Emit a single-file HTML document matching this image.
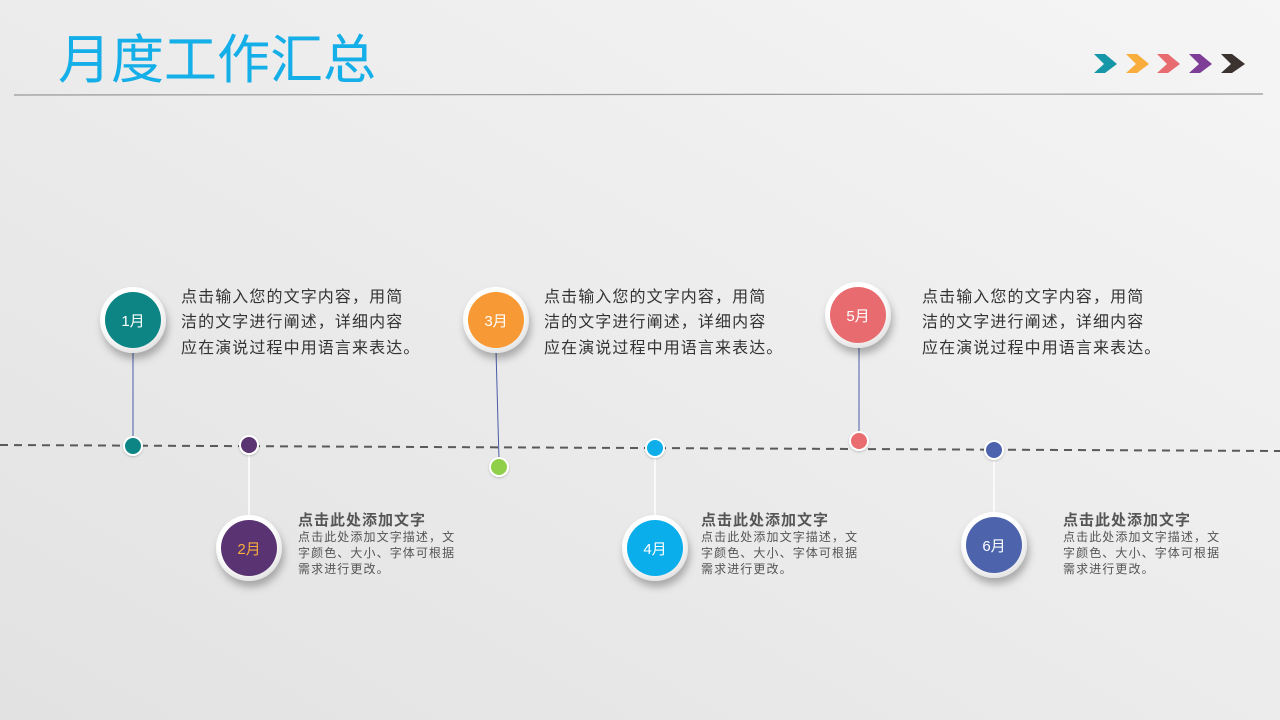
<!DOCTYPE html>
<html><head><meta charset="utf-8"><style>
html,body{margin:0;padding:0;width:1280px;height:720px;overflow:hidden}
svg text{font-family:"Liberation Sans","Noto Sans CJK SC",sans-serif}
</style></head><body>
<svg width="1280" height="720" viewBox="0 0 1280 720" xmlns="http://www.w3.org/2000/svg">
<defs>
<linearGradient id="bg" x1="0" y1="1" x2="1" y2="0">
<stop offset="0" stop-color="#e2e2e2"/><stop offset="1" stop-color="#f5f5f5"/>
</linearGradient>
<radialGradient id="ring" cx="0.45" cy="0.4" r="0.6">
<stop offset="0.7" stop-color="#ffffff"/><stop offset="1" stop-color="#e4e4e4"/>
</radialGradient>
<filter id="sh" x="-50%" y="-50%" width="200%" height="200%">
<feDropShadow dx="2" dy="6" stdDeviation="4" flood-color="#000" flood-opacity="0.28"/>
</filter>
<filter id="sh2" x="-50%" y="-50%" width="200%" height="200%">
<feDropShadow dx="0" dy="1" stdDeviation="1" flood-color="#000" flood-opacity="0.2"/>
</filter>
</defs>
<rect width="1280" height="720" fill="url(#bg)"/>
<text x="58" y="78" font-size="53" fill="#14aee8">月度工作汇总</text>
<line x1="14" y1="95" x2="1263" y2="94" stroke="#999" stroke-width="1.2"/>
<g>
<polygon points="1094,54 1105,54 1117,64 1105,73 1094,73 1104,64" fill="#1597a8"/>
<polygon points="1126,54 1137,54 1149,64 1137,73 1126,73 1136,64" fill="#f8ad3c"/>
<polygon points="1157,54 1168,54 1180,64 1168,73 1157,73 1167,64" fill="#e86c6f"/>
<polygon points="1189,54 1200,54 1212,64 1200,73 1189,73 1199,64" fill="#7e3d97"/>
<polygon points="1221,54 1232,54 1245,64 1232,73 1221,73 1231,64" fill="#3b332f"/>
</g>
<line x1="0" y1="445" x2="1280" y2="451" stroke="#5a5a5a" stroke-width="2" stroke-dasharray="8,6"/>
<line x1="133" y1="350" x2="133" y2="440" stroke="#4a5da8" stroke-width="1"/>
<line x1="496" y1="350" x2="499" y2="460" stroke="#4a5da8" stroke-width="1"/>
<line x1="859" y1="345" x2="859" y2="435" stroke="#4a5da8" stroke-width="1"/>
<line x1="249" y1="450" x2="249" y2="520" stroke="#fff" stroke-width="1.5"/>
<line x1="655" y1="452" x2="655" y2="520" stroke="#fff" stroke-width="1.5"/>
<line x1="994" y1="455" x2="994" y2="515" stroke="#fff" stroke-width="1.5"/>
<g filter="url(#sh2)">
<circle cx="133" cy="446" r="10" fill="#fff"/><circle cx="133" cy="446" r="8" fill="#0e8585"/>
<circle cx="249" cy="445" r="10" fill="#fff"/><circle cx="249" cy="445" r="8" fill="#5a3472"/>
<circle cx="499" cy="467" r="10" fill="#fff"/><circle cx="499" cy="467" r="8" fill="#8fcf4a"/>
<circle cx="655" cy="448" r="10" fill="#fff"/><circle cx="655" cy="448" r="8" fill="#0aaeea"/>
<circle cx="859" cy="441" r="10" fill="#fff"/><circle cx="859" cy="441" r="8" fill="#e86c6f"/>
<circle cx="994" cy="450" r="10" fill="#fff"/><circle cx="994" cy="450" r="8" fill="#4d64ad"/>
</g>
<g>
<circle cx="133" cy="320" r="33" fill="url(#ring)" filter="url(#sh)"/><circle cx="133" cy="320" r="28" fill="#0e8585"/>
<circle cx="496" cy="320" r="33" fill="url(#ring)" filter="url(#sh)"/><circle cx="496" cy="320" r="28" fill="#f79a35"/>
<circle cx="858" cy="315" r="33" fill="url(#ring)" filter="url(#sh)"/><circle cx="858" cy="315" r="28" fill="#e86c6f"/>
<circle cx="249" cy="548" r="33" fill="url(#ring)" filter="url(#sh)"/><circle cx="249" cy="548" r="28" fill="#5a3472"/>
<circle cx="655" cy="548" r="33" fill="url(#ring)" filter="url(#sh)"/><circle cx="655" cy="548" r="28" fill="#0aaeea"/>
<circle cx="994" cy="545" r="33" fill="url(#ring)" filter="url(#sh)"/><circle cx="994" cy="545" r="28" fill="#4d64ad"/>
</g>
<g font-size="15" text-anchor="middle" fill="#fff">
<text x="133" y="326">1月</text>
<text x="496" y="326">3月</text>
<text x="858" y="321">5月</text>
<text x="249" y="554" fill="#f8ad3c">2月</text>
<text x="655" y="554">4月</text>
<text x="994" y="551">6月</text>
</g>
<g font-size="16" fill="#333" letter-spacing="1.1">
<text x="181" y="302">点击输入您的文字内容，用简</text>
<text x="181" y="327">洁的文字进行阐述，详细内容</text>
<text x="181" y="353">应在演说过程中用语言来表达。</text>
<text x="544" y="302">点击输入您的文字内容，用简</text>
<text x="544" y="327">洁的文字进行阐述，详细内容</text>
<text x="544" y="353">应在演说过程中用语言来表达。</text>
<text x="922" y="302">点击输入您的文字内容，用简</text>
<text x="922" y="327">洁的文字进行阐述，详细内容</text>
<text x="922" y="353">应在演说过程中用语言来表达。</text>
</g>
<g fill="#555">
<text x="298" y="525" font-size="15" font-weight="bold" letter-spacing="1">点击此处添加文字</text>
<g font-size="12" letter-spacing="1.1">
<text x="298" y="541">点击此处添加文字描述，文</text>
<text x="298" y="557">字颜色、大小、字体可根据</text>
<text x="298" y="573">需求进行更改。</text>
</g>
<text x="701" y="525" font-size="15" font-weight="bold" letter-spacing="1">点击此处添加文字</text>
<g font-size="12" letter-spacing="1.1">
<text x="701" y="541">点击此处添加文字描述，文</text>
<text x="701" y="557">字颜色、大小、字体可根据</text>
<text x="701" y="573">需求进行更改。</text>
</g>
<text x="1063" y="525" font-size="15" font-weight="bold" letter-spacing="1">点击此处添加文字</text>
<g font-size="12" letter-spacing="1.1">
<text x="1063" y="541">点击此处添加文字描述，文</text>
<text x="1063" y="557">字颜色、大小、字体可根据</text>
<text x="1063" y="573">需求进行更改。</text>
</g>
</g>
</svg>
</body></html>
